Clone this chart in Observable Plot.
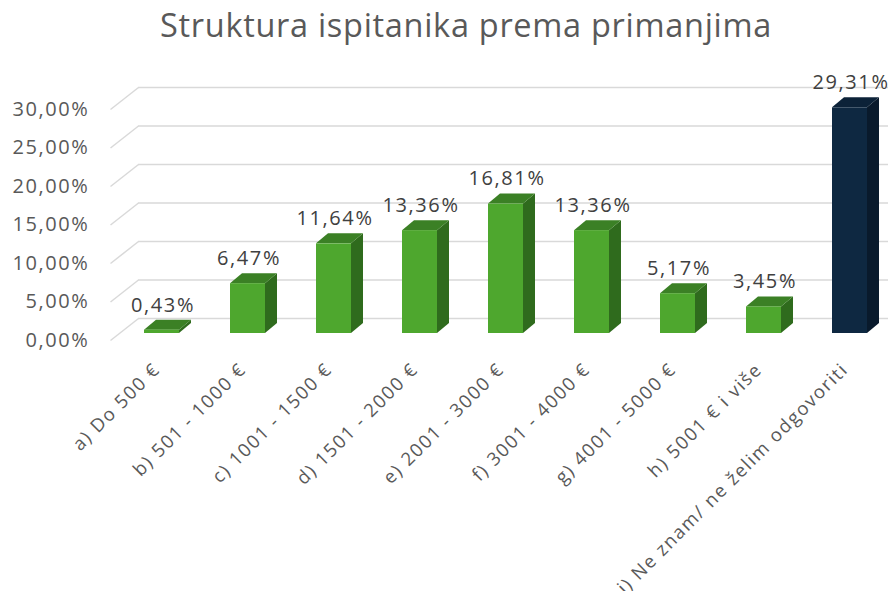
<!DOCTYPE html>
<html>
<head>
<meta charset="utf-8">
<script src="https://cdn.jsdelivr.net/npm/d3@7"></script>
<script src="https://cdn.jsdelivr.net/npm/@observablehq/plot@0.6"></script>
<style>
  html, body { margin: 0; padding: 0; background: #ffffff; }
  #title { height: 50px; line-height: 50px; font-family: "Open Sans", sans-serif; font-size: 32.5px; color: #595959; text-align: center; padding-left: 36px; box-sizing: border-box; width: 896px; letter-spacing: 0.7px; }
</style>
</head>
<body>
<div id="title">Struktura ispitanika prema primanjima</div>
<div id="chart"></div>
<script>
const categories = [
  "a) Do 500 €",
  "b) 501 - 1000 €",
  "c) 1001 - 1500 €",
  "d) 1501 - 2000 €",
  "e) 2001 - 3000 €",
  "f) 3001 - 4000 €",
  "g) 4001 - 5000 €",
  "h) 5001 € i više",
  "i) Ne znam/ ne želim odgovoriti"
];
const values = [0.43, 6.47, 11.64, 13.36, 16.81, 13.36, 5.17, 3.45, 29.31];
const yTicks = [0, 5, 10, 15, 20, 25, 30];

const greenFront = "#4ea72e", greenTop = "#3b8025", greenSide = "#2f6b1d";
const navyFront = "#0e2841", navyTop = "#0c2238", navySide = "#091a2c";

// pixel geometry helpers (px per data unit)
const W = 896, H = 541;
const mL = 161.5, mR = 46.5, mT = 52, mB = 258;
const pxX = (W - mL - mR) / 8;   // px per category step
const pxY = (H - mT - mB) / 30;  // px per percent
const hw = 17.5 / pxX;           // half bar width
const ddx = 12 / pxX, ddy = 10 / pxY;   // bar depth
const wallBack = 15 / pxY, wallFront = 7 / pxY;

const fmt = v => v.toFixed(2).replace(".", ",") + "%";
const barData = categories.map((c, i) => ({c, i, v: values[i], last: i === categories.length - 1}));

const sideFaces = barData.flatMap(d => [
  {i: d.i, last: d.last, x: d.i + hw, y1: 0, y2: d.v},
  {i: d.i, last: d.last, x: d.i + hw + ddx, y1: ddy, y2: d.v + ddy}
]);
const topFaces = barData.flatMap(d => [
  {i: d.i, last: d.last, y: d.v, x1: d.i - hw, x2: d.i + hw},
  {i: d.i, last: d.last, y: d.v + ddy, x1: d.i - hw + ddx, x2: d.i + hw + ddx}
]);

const xAt = px => (px - mL) / pxX;

const chart = Plot.plot({
  width: W, height: H,
  marginLeft: mL, marginRight: mR, marginTop: mT, marginBottom: mB,
  x: {type: "linear", domain: [0, 8], axis: null},
  y: {type: "linear", domain: [0, 30], axis: null},
  style: {fontFamily: "'Open Sans', sans-serif", background: "#ffffff", letterSpacing: "1.6px"},
  marks: [
    Plot.ruleY(yTicks, {y: d => d + wallBack, x1: xAt(138), x2: xAt(888), stroke: "#d9d9d9", strokeWidth: 1.5}),
    Plot.link(yTicks, {x1: xAt(110), y1: d => d - wallFront, x2: xAt(138), y2: d => d + wallBack, stroke: "#d9d9d9", strokeWidth: 1.5}),
    Plot.text(yTicks, {x: xAt(89), y: d => d - wallFront, text: fmt, textAnchor: "end", lineAnchor: "middle", fontSize: 20, fill: "#595959"}),
    Plot.areaY(sideFaces, {x: "x", y1: "y1", y2: "y2", z: "i", fill: d => d.last ? navySide : greenSide, curve: "linear"}),
    Plot.areaX(topFaces, {y: "y", x1: "x1", x2: "x2", z: "i", fill: d => d.last ? navyTop : greenTop, curve: "linear"}),
    Plot.rect(barData, {x1: d => d.i - hw, x2: d => d.i + hw, y1: 0, y2: "v", fill: d => d.last ? navyFront : greenFront}),
    Plot.text(barData, {x: "i", y: "v", text: d => fmt(d.v), dy: -25, dx: 1, lineAnchor: "middle", fontSize: 20, fill: "#404040"}),
    Plot.text(barData, {x: "i", y: -33 / pxY, text: "c", rotate: -45, textAnchor: "end", lineAnchor: "middle", dx: -5, fontSize: 18.5, fill: "#595959"})
  ]
});
document.getElementById("chart").appendChild(chart);
</script>
</body>
</html>
